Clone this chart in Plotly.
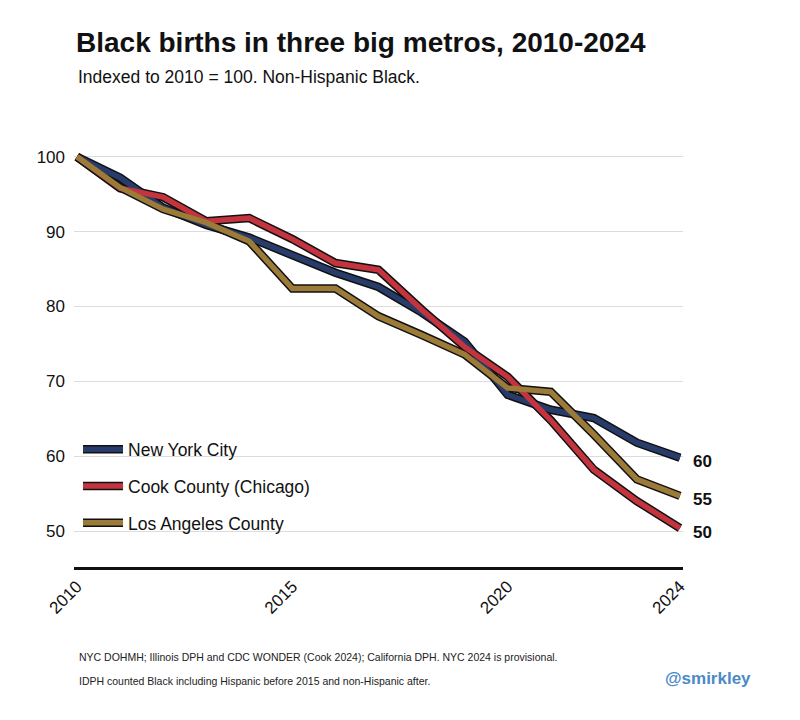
import plotly.graph_objects as go

# ==========================================================
# DATA (index, 2010 = 100)
# ==========================================================
YEARS = list(range(2010, 2025))

NYC = [100, 97.2, 93.2, 90.9, 89.2, 86.9, 84.5, 82.6, 79.2, 75.3,
       68.2, 66.2, 65.1, 61.8, 59.8]
COOK = [100, 95.8, 94.6, 91.4, 91.8, 89.0, 85.8, 84.9, 79.6, 74.6,
        70.6, 64.8, 58.2, 54.0, 50.4]
LA = [100, 95.9, 93.0, 91.2, 88.7, 82.4, 82.4, 78.7, 76.2, 73.6,
      69.1, 68.6, 62.9, 56.9, 54.7]

SERIES_NAMES = ["New York City", "Cook County (Chicago)", "Los Angeles County"]
SERIES_COLORS = ["#283c6c", "#c4343f", "#9c7a38"]
END_LABELS = ["60", "50", "55"]

FONT = "Liberation Sans, Arial, sans-serif"

# ==========================================================
# GEOMETRY (page is offset by the 8px body margin)
# ==========================================================
W, H = 792, 712
M_L, M_R, M_T, M_B = 66, 117, 142, 153
PW = W - M_L - M_R
PH = H - M_T - M_B
OFF = 8


def px_x(page_x):
    return (page_x - OFF - M_L) / PW


def px_y(page_y):
    return (H - M_B - (page_y - OFF)) / PH


fig = go.Figure()
series = [NYC, COOK, LA]

# black outline underneath each line (its legend has invisible text)
for i, (name, vals) in enumerate(zip(SERIES_NAMES, series)):
    fig.add_trace(go.Scatter(
        x=YEARS, y=vals, mode="lines", name=name,
        line=dict(color="#111111", width=8.5),
        legend="legend", legendgroup=f"o{i}", hoverinfo="skip",
    ))

# coloured lines on top
for i, (name, vals, col) in enumerate(zip(SERIES_NAMES, series, SERIES_COLORS)):
    fig.add_trace(go.Scatter(
        x=YEARS, y=vals, mode="lines", name=name,
        line=dict(color=col, width=5.5),
        legend="legend2", legendgroup=f"c{i}",
    ))

# end-of-line labels
for vals, lab in zip(series, END_LABELS):
    fig.add_annotation(
        x=YEARS[-1], y=vals[-1], xref="x", yref="y",
        text=f"<b>{lab}</b>", showarrow=False,
        xanchor="left", yanchor="middle", xshift=11, yshift=-4,
        font=dict(family=FONT, size=17, color="#111111"),
    )

legend_common = dict(
    x=0.0066, y=0.325, xanchor="left", yanchor="top",
    bgcolor="rgba(0,0,0,0)",
    tracegroupgap=11,
    itemwidth=40,
    traceorder="grouped",
)

fig.update_layout(
    width=W, height=H,
    paper_bgcolor="white", plot_bgcolor="white",
    margin=dict(l=M_L, r=M_R, t=M_T, b=M_B),
    font=dict(family=FONT, size=16, color="#111111"),
    title=dict(
        text="<b>Black births in three big metros, 2010-2024</b>",
        x=(76 - OFF) / W, xanchor="left", y=1 - (42 - OFF) / H, yanchor="middle",
        font=dict(family=FONT, size=28, color="#111111"),
    ),
    legend=dict(**legend_common, font=dict(family=FONT, size=17.5, color="rgba(0,0,0,0)")),
    legend2=dict(**legend_common, font=dict(family=FONT, size=17.5, color="#111111")),
    showlegend=True,
)

fig.add_annotation(text="Indexed to 2010 = 100. Non-Hispanic Black.",
                   xref="paper", yref="paper", x=px_x(76), y=px_y(77),
                   xanchor="left", yanchor="middle", showarrow=False,
                   font=dict(family=FONT, size=17.5, color="#111111"))
fig.add_annotation(text="NYC DOHMH; Illinois DPH and CDC WONDER (Cook 2024); California DPH. NYC 2024 is provisional.",
                   xref="paper", yref="paper", x=px_x(77), y=px_y(657),
                   xanchor="left", yanchor="middle", showarrow=False,
                   font=dict(family=FONT, size=10.5, color="#222222"))
fig.add_annotation(text="IDPH counted Black including Hispanic before 2015 and non-Hispanic after.",
                   xref="paper", yref="paper", x=px_x(77), y=px_y(681),
                   xanchor="left", yanchor="middle", showarrow=False,
                   font=dict(family=FONT, size=10.5, color="#222222"))
fig.add_annotation(text="<b>@smirkley</b>",
                   xref="paper", yref="paper", x=px_x(753), y=px_y(678),
                   xanchor="right", yanchor="middle", showarrow=False,
                   font=dict(family=FONT, size=17, color="#4a8ac6"))

fig.update_xaxes(
    range=[2009.93, 2024.07],
    tickvals=[2010, 2015, 2020, 2024],
    tickangle=-45,
    showgrid=False, zeroline=False,
    showline=True, linecolor="#111111", linewidth=3,
    ticks="",
    tickfont=dict(family=FONT, size=17, color="#111111"),
)
fig.update_yaxes(
    range=[45.2, 100.9],
    tickvals=[50, 60, 70, 80, 90, 100],
    showgrid=True, gridcolor="#dcdcdc", gridwidth=1,
    zeroline=False, showline=False, ticks="",
    ticklabelstandoff=8,
    tickfont=dict(family=FONT, size=17, color="#111111"),
)

fig.write_html("out.html")
